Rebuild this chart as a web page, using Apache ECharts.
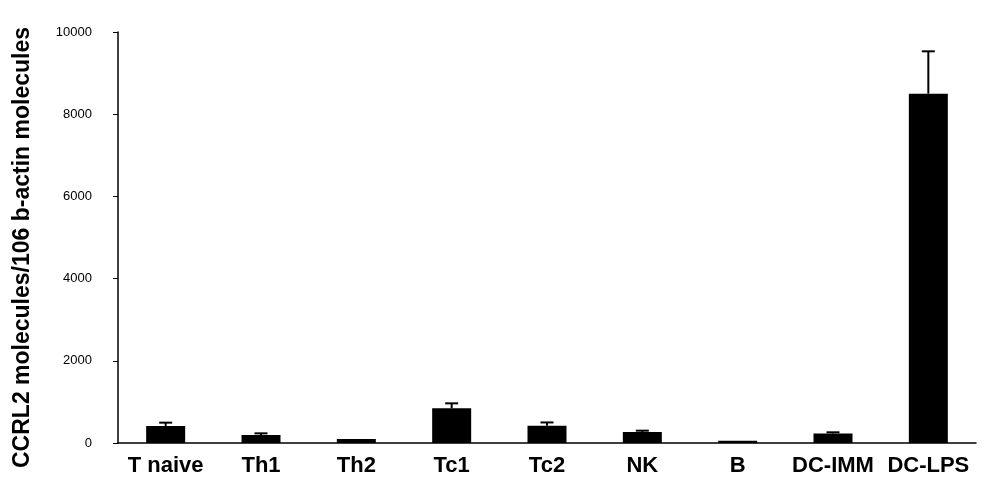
<!DOCTYPE html>
<html>
<head>
<meta charset="utf-8">
<script src="https://cdn.jsdelivr.net/npm/echarts@6/dist/echarts.min.js"></script>
<style>
html, body { margin: 0; padding: 0; background: #fff; }
#main { width: 989px; height: 485px; }
</style>
</head>
<body>
<div id="main"></div>
<script>
// 数据
var categories = ['T naive', 'Th1', 'Th2', 'Tc1', 'Tc2', 'NK', 'B', 'DC-IMM', 'DC-LPS'];
var means = [415, 195, 100, 845, 420, 270, 55, 230, 8500];
var errors = [80, 40, 0, 120, 80, 30, 0, 30, 1030];
var yTicks = [0, 2000, 4000, 6000, 8000, 10000];

var myChart = echarts.init(document.getElementById('main'));

var option = {
    backgroundColor: '#fff',
    animation: false,
    grid: {
        left: 118,
        right: 13,
        top: 32,
        bottom: 42
    },
    xAxis: {
        type: 'category',
        data: categories,
        axisLine: { lineStyle: { color: '#000', width: 1.5 } },
        axisTick: { show: false },
        axisLabel: {
            color: '#000',
            fontFamily: 'Liberation Sans, Arial',
            fontWeight: 'bold',
            fontSize: 22,
            margin: 12,
            interval: 0
        }
    },
    yAxis: {
        type: 'value',
        min: yTicks[0],
        max: yTicks[yTicks.length - 1],
        interval: 2000,
        name: 'CCRL2 molecules/106 b-actin molecules',
        nameLocation: 'middle',
        nameGap: 84,
        nameTextStyle: {
            color: '#000',
            fontFamily: 'Liberation Sans, Arial',
            fontWeight: 'bold',
            fontSize: 23,
            padding: [0, 20, 0, 0]
        },
        axisLine: { show: true, lineStyle: { color: '#000', width: 1.5 } },
        axisTick: { show: true, length: 5, lineStyle: { color: '#000' } },
        splitLine: { show: false },
        axisLabel: {
            color: '#000',
            fontFamily: 'Liberation Sans, Arial',
            fontSize: 13,
            margin: 26,
            formatter: function (v) { return String(v); }
        }
    },
    series: [
        {
            name: 'mean',
            type: 'bar',
            barWidth: 39,
            itemStyle: { color: '#000' },
            data: means
        },
        {
            name: 'error',
            type: 'custom',
            data: (function () {
                var res = [];
                for (var i = 0; i < means.length; i++) {
                    res.push([i, means[i], means[i] + errors[i]]);
                }
                return res;
            })(),
            renderItem: function (params, api) {
                var i = api.value(0);
                if (api.value(2) <= api.value(1)) return;
                var low = api.coord([i, api.value(1)]);
                var high = api.coord([i, api.value(2)]);
                var half = 6.5;
                var style = { stroke: '#000', lineWidth: 2 };
                return {
                    type: 'group',
                    children: [
                        { type: 'line', shape: { x1: low[0], y1: low[1], x2: high[0], y2: high[1] }, style: style },
                        { type: 'line', shape: { x1: high[0] - half, y1: high[1], x2: high[0] + half, y2: high[1] }, style: style }
                    ]
                };
            },
            z: 3
        }
    ]
};
myChart.setOption(option, true);
</script>
</body>
</html>
